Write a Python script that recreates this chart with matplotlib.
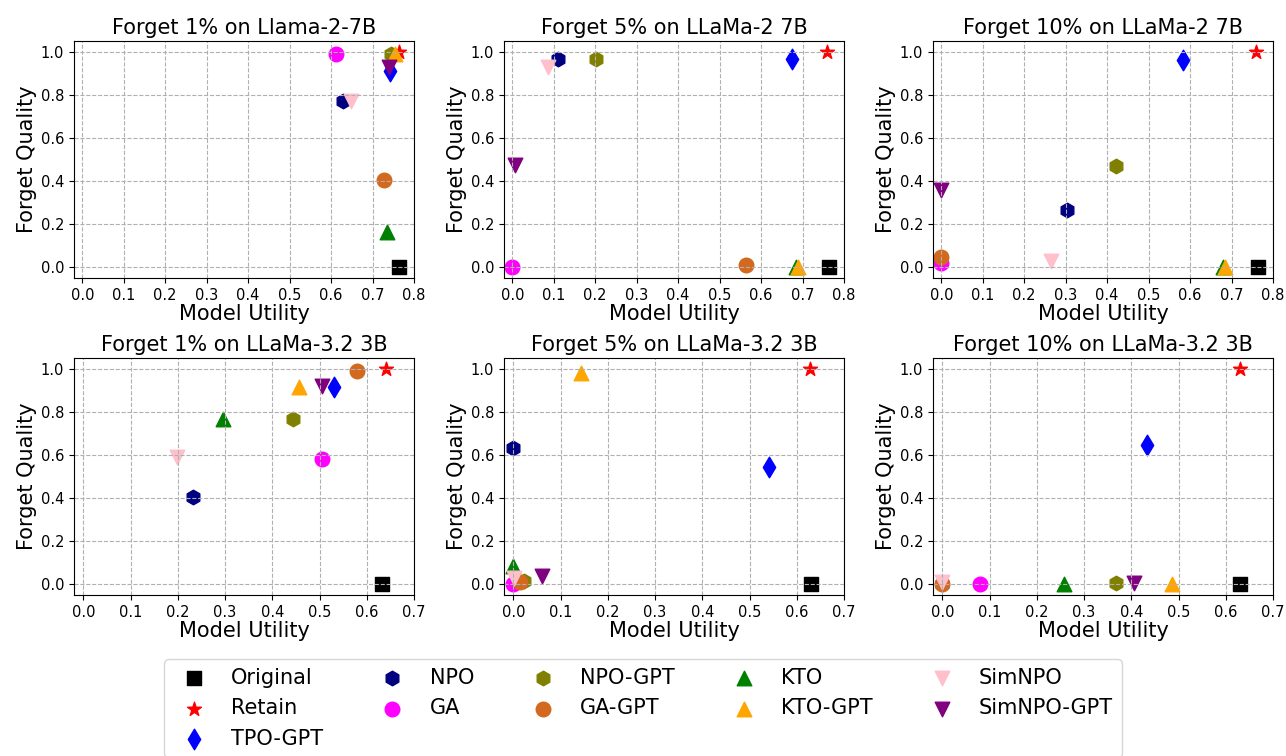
import matplotlib
matplotlib.use("Agg")
import matplotlib.pyplot as plt
import numpy as np

methods = ["Original", "Retain", "TPO-GPT", "NPO", "GA", "NPO-GPT", "GA-GPT",
           "KTO", "KTO-GPT", "SimNPO", "SimNPO-GPT"]
markers = ["s", "*", "d", "h", "o", "h", "o", "^", "^", "v", "v"]
colors = ["black", "red", "blue", "navy", "magenta", "olive", "chocolate",
          "green", "orange", "pink", "purple"]

titles = ["Forget 1% on Llama-2-7B", "Forget 5% on LLaMa-2 7B", "Forget 10% on LLaMa-2 7B",
          "Forget 1% on LLaMa-3.2 3B", "Forget 5% on LLaMa-3.2 3B", "Forget 10% on LLaMa-3.2 3B"]

# Model utility (x) per panel, in the order of `methods`
mu_l2_1 = [0.763, 0.763, 0.743, 0.629, 0.613, 0.745, 0.727, 0.735, 0.753, 0.649, 0.739]
mu_l2_5 = [0.764, 0.760, 0.674, 0.110, 0.000, 0.202, 0.564, 0.684, 0.690, 0.085, 0.006]
mu_l2_10 = [0.763, 0.760, 0.583, 0.303, 0.000, 0.422, 0.000, 0.679, 0.685, 0.264, 0.000]
mu_l3_1 = [0.632, 0.641, 0.530, 0.233, 0.505, 0.443, 0.579, 0.295, 0.456, 0.199, 0.505]
mu_l3_5 = [0.630, 0.627, 0.541, 0.000, 0.000, 0.022, 0.013, 0.000, 0.142, 0.002, 0.061]
mu_l3_10 = [0.630, 0.630, 0.434, 0.000, 0.080, 0.368, 0.000, 0.258, 0.486, 0.000, 0.405]

# Forget quality (y) per panel
fq_l2_1 = [0.000, 1.000, 0.910, 0.770, 0.990, 0.990, 0.406, 0.164, 0.990, 0.770, 0.930]
fq_l2_5 = [0.000, 1.000, 0.965, 0.965, 0.000, 0.965, 0.010, 0.000, 0.000, 0.930, 0.475]
fq_l2_10 = [0.000, 1.000, 0.960, 0.265, 0.020, 0.472, 0.046, 0.000, 0.000, 0.028, 0.357]
fq_l3_1 = [0.003, 1.000, 0.915, 0.405, 0.580, 0.766, 0.990, 0.765, 0.915, 0.590, 0.920]
fq_l3_5 = [0.000, 1.000, 0.544, 0.630, 0.000, 0.017, 0.010, 0.083, 0.980, 0.028, 0.037]
fq_l3_10 = [0.000, 1.000, 0.644, 0.000, 0.000, 0.006, 0.000, 0.000, 0.000, 0.010, 0.006]

xs = [mu_l2_1, mu_l2_5, mu_l2_10, mu_l3_1, mu_l3_5, mu_l3_10]
ys = [fq_l2_1, fq_l2_5, fq_l2_10, fq_l3_1, fq_l3_5, fq_l3_10]
xmax = [0.8, 0.8, 0.8, 0.7, 0.7, 0.7]

W, H = 1286, 756
fig = plt.figure(figsize=(W / 100, H / 100), dpi=100)

lefts = [74, 504, 933]
tops = [41, 358]
aw, ah = 340, 237

handles = []
for i in range(6):
    r, c = divmod(i, 3)
    ax = fig.add_axes([lefts[c] / W, 1 - (tops[r] + ah) / H, aw / W, ah / H])
    for j, m in enumerate(methods):
        h = ax.scatter(xs[i][j], ys[i][j], marker=markers[j], color=colors[j], s=110, label=m)
        if i == 0:
            handles.append(h)
    ax.set_xlim(-0.02, xmax[i])
    ax.set_ylim(-0.05, 1.05)
    ax.set_xticks(np.arange(0, xmax[i] + 0.001, 0.1))
    ax.set_yticks(np.arange(0, 1.001, 0.2))
    ax.tick_params(labelsize=10.5)
    ax.grid(True, linestyle="--")
    ax.set_title(titles[i], fontsize=15, pad=5)
    ax.set_xlabel("Model Utility", fontsize=15, labelpad=1)
    ax.set_ylabel("Forget Quality", fontsize=15, labelpad=3)

fig.legend(handles=handles, labels=methods, loc="upper center",
           bbox_to_anchor=(0.5, 1 - 649 / H), ncol=5, fontsize=15,
           scatterpoints=1, columnspacing=2.3)

fig.savefig("out.png", dpi=100)
